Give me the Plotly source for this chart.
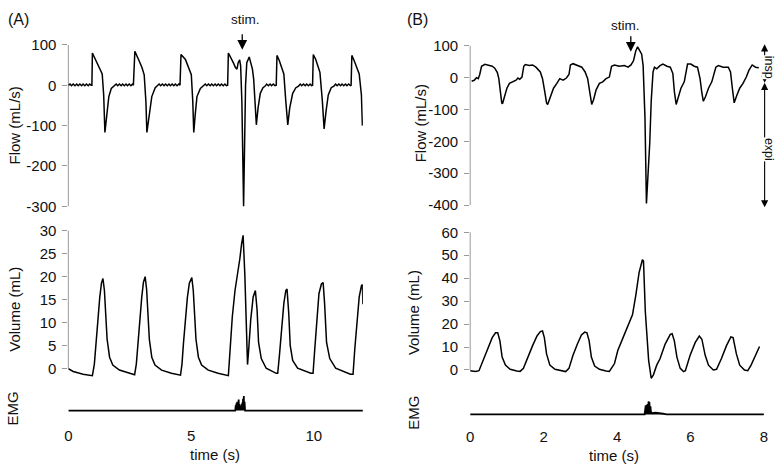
import plotly.graph_objects as go

W, H = 781, 470
FONT = "Liberation Sans, Arial, sans-serif"
GREY = "#9a9a9a"

# ---------------- Panel A data ----------------
flowA_t = [0.00, 0.07, 0.13, 0.20, 0.27, 0.34, 0.40, 0.47, 0.54, 0.60, 0.67, 0.74, 0.81, 0.87, 0.93,
           0.96, 0.98, 1.14, 1.28, 1.38, 1.44, 1.49, 1.57, 1.65, 1.75, 1.88,
           1.95, 2.01, 2.08, 2.15, 2.21, 2.28, 2.35, 2.41, 2.48, 2.55, 2.61, 2.65,
           2.71, 2.86, 3.00, 3.09, 3.16, 3.20, 3.29, 3.40, 3.54, 3.63,
           3.70, 3.76, 3.83, 3.90, 3.96, 4.03, 4.10, 4.16, 4.23, 4.30, 4.36, 4.43, 4.50, 4.55,
           4.59, 4.77, 4.91, 5.01, 5.07, 5.11, 5.17, 5.24, 5.38, 5.51,
           5.58, 5.64, 5.71, 5.78, 5.84, 5.91, 5.98, 6.04, 6.11, 6.18, 6.24, 6.31, 6.38, 6.44, 6.49,
           6.52, 6.63, 6.72, 6.81, 6.87, 6.92, 6.98, 7.02, 7.07, 7.14, 7.22, 7.27, 7.33, 7.37, 7.43,
           7.50, 7.55, 7.61, 7.66, 7.73, 7.82, 7.93, 8.02,
           8.08, 8.15, 8.22, 8.28, 8.35, 8.42, 8.47,
           8.50, 8.60, 8.70, 8.78, 8.86, 8.94, 9.02, 9.14, 9.27, 9.38,
           9.45, 9.51, 9.58, 9.65, 9.71, 9.78, 9.85, 9.91, 9.95,
           9.98, 10.08, 10.17, 10.25, 10.35, 10.42, 10.50, 10.59, 10.71, 10.82,
           10.89, 10.95, 11.02, 11.09, 11.15, 11.22, 11.29, 11.35, 11.42, 11.49, 11.52,
           11.55, 11.65, 11.76, 11.85, 11.94, 11.98]
flowA_v = [0, 3, -1, 3, -1, 3, -1, 3, -1, 3, -1, 3, -1, 3, 0,
           0, 80, 60, 44, 28, -24, -117, -72, -28, -8, -2,
           3, -1, 3, -1, 3, -1, 3, -1, 3, -1, 3, 0,
           84, 64, 44, 26, -40, -117, -72, -28, -6, -2,
           3, -1, 3, -1, 3, -1, 3, -1, 3, -1, 3, -1, 3, 0,
           76, 64, 44, 26, -40, -117, -72, -28, -8, -2,
           3, -1, 3, -1, 3, -1, 3, -1, 3, -1, 3, -1, 3, -1, 0,
           80, 68, 56, 44, 40, 56, 63, 48, -40, -300, 0, 56, 68, 70, 56,
           40, 16, -40, -98, -56, -20, -6, -2,
           3, -1, 3, -1, 3, -1, 0,
           74, 60, 44, 28, -40, -98, -56, -20, -6, -2,
           3, -1, 3, -1, 3, -1, 3, -1, 0,
           76, 64, 48, 32, -40, -108, -64, -24, -6, -2,
           3, -1, 3, -1, 3, -1, 3, -1, 3, -1, 0,
           74, 60, 44, 28, -24, -100]

volA_t = [0.00, 0.20, 0.60, 0.98, 1.06, 1.12, 1.20, 1.28, 1.35, 1.41, 1.47, 1.52, 1.58, 1.68, 1.81, 2.08, 2.40, 2.70,
          2.77, 2.83, 2.91, 2.99, 3.06, 3.13, 3.19, 3.24, 3.30, 3.40, 3.53, 3.80, 4.20, 4.57,
          4.63, 4.69, 4.77, 4.85, 4.93, 5.03, 5.09, 5.14, 5.20, 5.30, 5.43, 5.70, 6.10, 6.52,
          6.59, 6.68, 6.79, 6.90, 6.99, 7.06, 7.12, 7.19, 7.25, 7.29, 7.30, 7.35, 7.43, 7.53, 7.62,
          7.69, 7.75, 7.86, 8.06, 8.47, 8.53, 8.60, 8.70, 8.78, 8.86, 8.91, 8.98, 9.04, 9.14, 9.34, 9.88,
          9.97, 10.04, 10.12, 10.21, 10.31, 10.38, 10.44, 10.52, 10.65, 10.89, 11.49,
          11.60, 11.67, 11.76, 11.85, 11.94, 11.98, 12.00]
volA_v = [0.0, -0.6, -1.2, -1.5, 1.0, 5.5, 10.5, 15.5, 18.6, 19.6, 17.0, 13.0, 6.4, 2.5, 0.8, -0.3, -0.9, -1.3,
          1.0, 5.5, 10.5, 15.5, 18.8, 20.0, 17.2, 13.0, 6.4, 2.5, 0.8, -0.3, -1.0, -1.4,
          1.0, 5.5, 10.5, 15.5, 18.6, 19.8, 17.0, 13.0, 6.4, 2.5, 0.8, -0.3, -1.0, -1.5,
          4.3, 11.3, 17.0, 20.5, 24.0, 27.2, 29.0, 20.5, 9.9, 1.5, 0.9, 4.3, 10.6, 15.6, 17.0,
          12.7, 5.7, 2.2, 0.1, -1.0, -1.0, 2.9, 9.9, 14.2, 17.0, 17.3, 12.0, 5.0, 1.8, 0.1, -1.0,
          -1.0, 4.3, 10.6, 16.3, 18.4, 18.7, 14.2, 5.7, 2.2, 0.1, -1.2,
          -1.2, 4.3, 10.6, 15.6, 18.0, 18.3, 14.0]

emgA_t = [0, 6.80, 6.82, 6.83, 6.85, 6.86, 6.88, 6.89, 6.91, 6.92, 6.94, 6.95, 6.97, 6.98, 7.00, 7.01,
          7.03, 7.04, 7.06, 7.07, 7.09, 7.10, 7.12, 7.13, 7.15, 7.16, 7.18, 7.20, 12]
emgA_v = [0, 0, 0.35, 0.05, 0.5, 0.1, 0.6, 0.15, 0.55, 0.2, 0.75, 0.1, 0.45, 0.1, 0.3, 0.05,
          0.2, 0.05, 0.4, 0.1, 0.55, 0.15, 0.8, 0.2, 1.0, 0.1, 0.6, 0, 0]

# ---------------- Panel B data ----------------
flowB_t = [0.04, 0.11, 0.17, 0.22, 0.26, 0.31, 0.40, 0.51, 0.60, 0.67, 0.74, 0.78, 0.82, 0.86, 0.88,
           0.93, 1.00, 1.07, 1.16, 1.25, 1.30, 1.35, 1.41, 1.46, 1.50, 1.61, 1.70, 1.79, 1.91, 1.97,
           2.03, 2.08, 2.11, 2.18, 2.27, 2.36, 2.44, 2.53, 2.62, 2.69, 2.73, 2.80, 2.92, 3.04, 3.13,
           3.20, 3.26, 3.31, 3.36, 3.43, 3.52, 3.61, 3.70, 3.79, 3.85, 3.93, 4.06, 4.20, 4.30, 4.38,
           4.45, 4.51, 4.56, 4.60, 4.67, 4.71, 4.76, 4.80, 4.89, 4.93, 4.98, 5.02, 5.08, 5.17, 5.25,
           5.36, 5.45, 5.52, 5.56, 5.61, 5.66, 5.74, 5.83, 5.88, 5.92, 6.01, 6.10, 6.19, 6.26, 6.31,
           6.35, 6.41, 6.49, 6.58, 6.64, 6.69, 6.76, 6.89, 7.03, 7.09, 7.14, 7.19, 7.25, 7.34, 7.43,
           7.52, 7.59, 7.68, 7.77, 7.86]
flowB_v = [-11, -8, 0, -3, 10, 36, 42, 38, 36, 30, 16, -3, -43, -79, -82,
           -59, -33, -18, -13, -8, -1, -5, 2, 36, 41, 38, 40, 33, 18, -3,
           -43, -79, -84, -59, -33, -18, -3, -8, -1, 10, 40, 44, 38, 33, 18,
           -3, -48, -84, -69, -38, -18, -13, -3, 2, 36, 40, 36, 38, 33, 40,
           54, 84, 97, 89, 74, 38, -125, -395, -206, -74, 18, 33, 28, 38, 43,
           36, 33, 13, -43, -84, -64, -33, -13, 18, 43, 43, 36, 33, -3, -48,
           -74, -59, -33, -13, 8, 33, 38, 33, 33, 18, -33, -79, -59, -33, -18,
           2, 23, 40, 33, 31]

volB_t = [0.00, 0.15, 0.24, 0.38, 0.50, 0.60, 0.69, 0.75, 0.81, 0.87, 0.96, 1.09, 1.27, 1.36,
          1.45, 1.59, 1.70, 1.82, 1.91, 1.97, 2.02, 2.08, 2.17, 2.31, 2.49, 2.60,
          2.69, 2.80, 2.92, 3.03, 3.12, 3.18, 3.24, 3.30, 3.39, 3.52, 3.70, 3.79,
          3.93, 4.02, 4.20, 4.42, 4.51, 4.60, 4.69, 4.72, 4.77, 4.86, 4.93, 4.99,
          5.08, 5.17, 5.31, 5.45, 5.50, 5.56, 5.63, 5.72, 5.81, 5.86,
          5.99, 6.13, 6.24, 6.31, 6.40, 6.49, 6.62, 6.71, 6.84, 6.98, 7.10, 7.16,
          7.25, 7.34, 7.47, 7.56, 7.65, 7.77, 7.88]
volB_v = [-0.3, -0.7, -0.3, 5.6, 10.6, 14.1, 16.2, 16.2, 12.7, 5.6, 2.1, 0.3, -0.4, -0.6,
          0.7, 6.4, 10.6, 14.8, 16.7, 17.0, 14.1, 7.0, 2.1, 0.3, -0.4, -0.7,
          0.7, 6.4, 11.3, 15.3, 16.5, 16.2, 12.7, 5.6, 1.7, 0.3, -0.4, -0.6,
          2.8, 8.5, 15.5, 24.0, 32.5, 42.4, 48.0, 47.5, 25.4, 4.2, -3.6, -2.1,
          2.1, 4.9, 11.3, 15.5, 15.8, 12.7, 5.6, 0.7, -0.7, -0.3,
          6.4, 12.0, 14.8, 13.4, 6.4, 2.1, 0.0, 0.3, 4.9, 10.6, 14.4, 14.1,
          7.0, 2.1, 0.0, -0.3, 2.1, 6.4, 10.2]

emgB_t = [0, 3.40, 3.50, 3.60, 3.70, 3.80, 3.90, 4.75, 4.78, 4.79, 4.80, 4.81, 4.83, 4.84, 4.86,
          4.87, 4.88, 4.89, 4.91, 4.92, 4.94, 4.96, 5.05, 5.15, 5.25, 5.35, 8]
emgB_v = [0, 0, 0.04, 0.02, 0.05, 0.03, 0, 0, 0.6, 0.1, 0.65, 0.2, 0.7, 0.3, 0.9,
          0.25, 0.85, 0.4, 0.55, 0.2, 0.1, 0.08, 0.12, 0.1, 0.05, 0, 0]

flowA_ticks = [100, 0, -100, -200, -300]
volA_ticks = [0, 5, 10, 15, 20, 25, 30]
flowB_ticks = [100, 0, -100, -200, -300, -400]
volB_ticks = [0, 10, 20, 30, 40, 50, 60]
timeA_ticks = [0, 5, 10]
timeB_ticks = [0, 2, 4, 6, 8]


def px(x):
    return x / W


def py(y):
    return 1 - y / H


def ydom(top, bottom):
    return [py(bottom), py(top)]


fig = go.Figure()
line = dict(color="black", width=1.5)
fig.add_trace(go.Scatter(x=flowA_t, y=flowA_v, mode="lines", line=line, xaxis="x", yaxis="y"))
fig.add_trace(go.Scatter(x=volA_t, y=volA_v, mode="lines", line=line, xaxis="x2", yaxis="y2"))
fig.add_trace(go.Scatter(x=emgA_t, y=emgA_v, mode="lines", line=dict(color="black", width=1.8),
                         fill="tozeroy", fillcolor="black", xaxis="x3", yaxis="y3"))
fig.add_trace(go.Scatter(x=flowB_t, y=flowB_v, mode="lines", line=line, xaxis="x4", yaxis="y4"))
fig.add_trace(go.Scatter(x=volB_t, y=volB_v, mode="lines", line=line, xaxis="x5", yaxis="y5"))
fig.add_trace(go.Scatter(x=emgB_t, y=emgB_v, mode="lines", line=dict(color="black", width=1.8),
                         fill="tozeroy", fillcolor="black", xaxis="x6", yaxis="y6"))

xdomA = [px(65), px(362.6)]
xdomB = [px(471), px(767.8)]
hidden_x = dict(visible=False, showgrid=False, zeroline=False)
tickfont = dict(family=FONT, size=15, color="#111")


def yax(domain, rng, ticks, anchor):
    return dict(domain=domain, range=rng, tickvals=ticks, ticktext=[str(t) for t in ticks],
                ticks="outside", ticklen=5,
                tickcolor=GREY, tickwidth=1, tickfont=tickfont, showline=False,
                showgrid=False, zeroline=False, anchor=anchor, ticklabelstandoff=3)


def emg_y(domain, rng, anchor):
    return dict(domain=domain, range=rng, showticklabels=False, ticks="", showline=False,
                showgrid=False, zeroline=False, anchor=anchor)


def time_x(domain, rng, ticks, anchor, standoff):
    return dict(domain=domain, range=rng, tickvals=ticks, ticktext=[str(t) for t in ticks],
                ticks="", showline=False,
                showgrid=False, zeroline=False, tickfont=tickfont, anchor=anchor,
                ticklabelstandoff=standoff)


fig.update_layout(
    width=W, height=H, margin=dict(l=0, r=0, t=0, b=0),
    paper_bgcolor="white", plot_bgcolor="white", showlegend=False,
    font=dict(family=FONT, color="#111"),
    xaxis=dict(domain=xdomA, range=[0, 12], anchor="y", **hidden_x),
    xaxis2=dict(domain=xdomA, range=[0, 12], anchor="y2", **hidden_x),
    xaxis3=time_x(xdomA, [0, 12], timeA_ticks, "y3", 10),
    xaxis4=dict(domain=xdomB, range=[0, 8], anchor="y4", **hidden_x),
    xaxis5=dict(domain=xdomB, range=[0, 8], anchor="y5", **hidden_x),
    xaxis6=time_x(xdomB, [0, 8], timeB_ticks, "y6", 7),
    yaxis=yax(ydom(37, 207), [-304.8, 104.8], flowA_ticks, "x"),
    yaxis2=yax(ydom(226, 384), [-2.535, 30.85], volA_ticks, "x2"),
    yaxis3=emg_y(ydom(396, 420), [-0.333, 1.267], "x3"),
    yaxis4=yax(ydom(36, 208), [-413.1, 112.1], flowB_ticks, "x4"),
    yaxis5=yax(ydom(226, 386), [-5.38, 62.4], volB_ticks, "x5"),
    yaxis6=emg_y(ydom(399, 424), [-0.333, 1.333], "x6"),
)

# grey axis lines spanning the tick range
for xr, yr, lo, hi in [("x", "y", -300, 100), ("x2", "y2", 0, 30),
                       ("x4", "y4", -400, 100), ("x5", "y5", 0, 60)]:
    fig.add_shape(type="line", xref=xr + " domain", x0=0, x1=0, yref=yr, y0=lo, y1=hi,
                  line=dict(color=GREY, width=1), layer="below")


def text(x, y, s, size=15, angle=0, bg=None):
    fig.add_annotation(x=px(x), y=py(y), xref="paper", yref="paper", text=s, showarrow=False,
                       textangle=angle, font=dict(family=FONT, size=size, color="#111"),
                       xanchor="center", yanchor="middle",
                       bgcolor=bg if bg else "rgba(0,0,0,0)", borderpad=0)


def arrow(x, y_tail, y_tip, both=False, size=1.5, width=1.3):
    fig.add_annotation(x=px(x), y=py(y_tip), xref="paper", yref="paper", text="",
                       showarrow=True, ax=0, ay=y_tail - y_tip, axref="pixel", ayref="pixel",
                       arrowhead=2, startarrowhead=2, arrowsize=size, startarrowsize=size,
                       arrowwidth=width, arrowcolor="black",
                       arrowside="end+start" if both else "end")


text(15, 13, "(A)", 16)
text(417.5, 13, "(B)", 16)

text(11, 122, "Flow (mL/s)", 15, -90)
text(10.5, 311, "Volume (mL)", 15, -90)
text(9, 413, "EMG", 15, -90)
text(421, 120, "Flow (mL/s)", 15, -90)
text(414, 314, "Volume (mL)", 15, -90)
text(414, 417.5, "EMG", 15, -90)

text(213, 460, "time (s)", 15)
text(616, 461, "time (s)", 15)

text(244, 13, "stim.", 13.5)
arrow(240.7, 27, 44)
text(627.5, 19, "stim.", 13.5)
arrow(633.3, 29, 46)

arrow(768.5, 38, 78, both=True, size=1.3, width=1.1)
arrow(768.5, 80, 206, both=True, size=1.3, width=1.1)
text(773, 61.5, "insp", 12.5, 90, "white")
text(773, 146, "expi", 12.5, 90, "white")

fig.write_html("out.html", config={"displayModeBar": False},
               post_script="document.body.style.margin='0';document.body.style.overflow='hidden';")
